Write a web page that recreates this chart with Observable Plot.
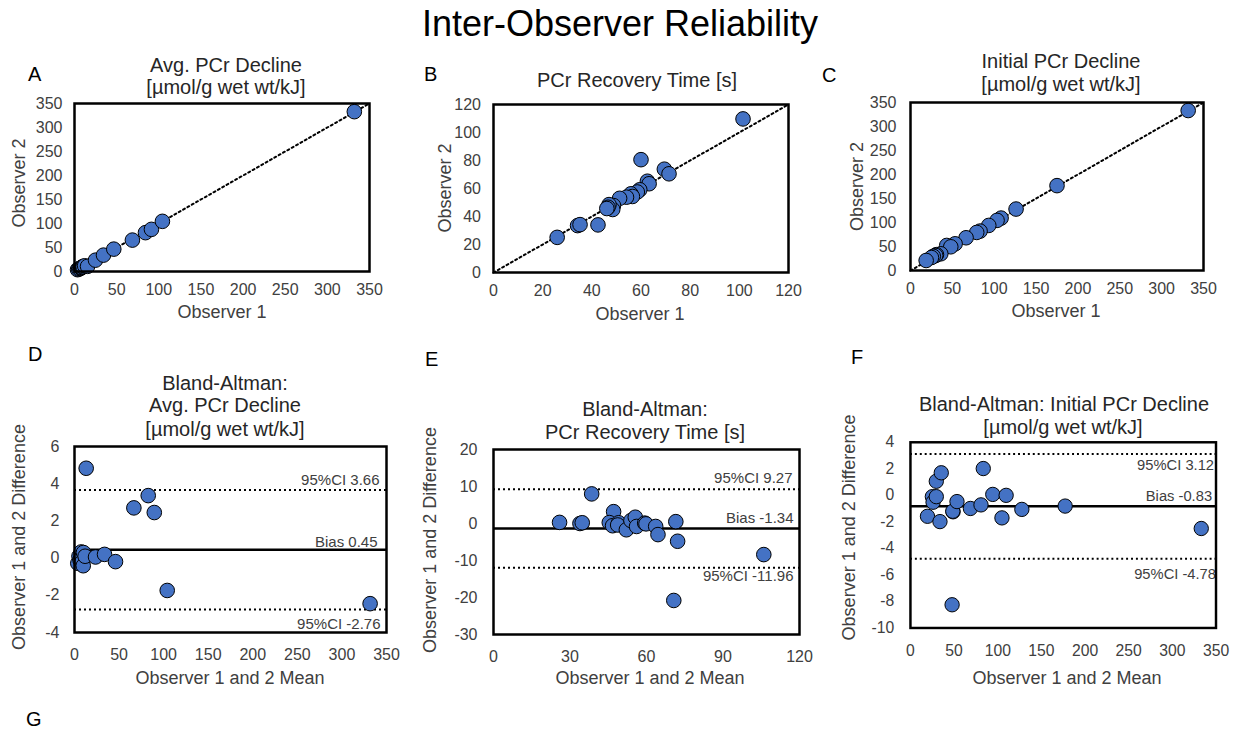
<!DOCTYPE html>
<html><head><meta charset="utf-8">
<script src="https://cdn.jsdelivr.net/npm/d3@7"></script>
<script src="https://cdn.jsdelivr.net/npm/@observablehq/plot@0.6"></script>
<style>
body{margin:0;background:#fff;}
#root{position:relative;width:1245px;height:729px;overflow:hidden;font-family:"Liberation Sans",Arial,sans-serif;}
.panel{position:absolute;}
#overlay{position:absolute;left:0;top:0;pointer-events:none;}
</style></head><body><div id="root"></div>
<script>
// ---------- DATA ----------
// A: Avg. PCr Decline (Observer 1 vs Observer 2)
const avgObs1 = [3.6, 5.0, 6.2, 7.7, 7.6, 8.4, 9.6, 10.2, 12.0, 15.5, 24.9, 34.4, 46.6, 68.7, 84.2, 91.3, 104.3, 332];
const avgObs2 = [3.8, 4.9, 6.3, 7.3, 7.6, 8.6, 10.0, 9.8, 11.9, 10.7, 23.6, 34.1, 46.6, 65.4, 80.9, 87.8, 104.5, 333];
// B: PCr Recovery Time
const recObs1 = [101.5, 60.0, 69.5, 71.4, 62.6, 63.3, 59.5, 58.5, 55.9, 56.5, 54.1, 51.3, 48.8, 48.5, 47.0, 46.6, 46.1, 34.2, 35.2, 42.5, 25.9];
const recObs2 = [109.7, 80.6, 73.8, 70.5, 65.2, 63.4, 59.1, 57.5, 56.2, 54.3, 53.8, 53.0, 47.8, 45.0, 48.5, 46.6, 45.7, 33.5, 34.2, 34.0, 25.1];
// C: Initial PCr Decline
const initObs1 = [331.7, 175, 126.1, 108.2, 103.4, 93.5, 83.1, 79.1, 66.4, 53.3, 43.3, 48.1, 36.2, 31, 30.1, 27.2, 25, 18.7];
const initObs2 = [333.3, 176.8, 128, 109.2, 104.4, 93.9, 82.1, 79.3, 68.2, 55.6, 52.2, 49.4, 34.8, 33, 31.3, 29.6, 27, 20.9];
// D: Bland-Altman Avg. PCr Decline
const avgMean = [3.7, 5.0, 6.2, 7.5, 7.6, 8.5, 9.8, 10.0, 11.9, 13.1, 23.6, 33.7, 46.0, 66.6, 82.7, 89.5, 104.0, 331.6];
const avgDiff = [-0.28, 0.1, -0.1, 0.33, 0.0, -0.2, -0.41, 0.3, 0.1, 4.83, 0.06, 0.2, -0.19, 2.7, 3.36, 2.45, -1.74, -2.45];
const avgBias = 0.45, avgCI = [3.66, -2.76];
// E: Bland-Altman PCr Recovery Time
const recMean = [25.9, 33.9, 34.8, 38.5, 47.1, 45.4, 46.7, 49.1, 48.7, 52.1, 53.9, 55.6, 56.1, 59.3, 59.8, 63.6, 64.5, 71.5, 72.2, 70.7, 106.0];
const recDiff = [0.3, 0.0, 0.2, 8.0, 3.2, 0.25, -0.6, 0.2, -0.4, -1.7, 0.8, 1.7, -0.8, 0.1, -0.1, -0.8, -3.0, 0.5, -4.8, -20.8, -8.4];
const recBias = -1.34, recCI = [9.27, -11.96];
// F: Bland-Altman Initial PCr Decline
const initMean = [19.5, 25.1, 25.9, 29.6, 29.6, 35.3, 33.8, 47.7, 48.8, 48.5, 53.3, 68.7, 80.8, 83.4, 94.3, 104.8, 109.6, 127.6, 177.2, 333.1];
const initDiff = [-1.58, -0.1, -0.52, 1.06, -0.1, 1.7, -1.98, -8.25, -1.24, -1.2, -0.47, -0.99, -0.72, 2.02, 0.07, -1.7, 0.0, -1.06, -0.81, -2.5];
const initBias = -0.83, initCI = [3.12, -4.78];
// identity lines
const diag350 = [0, 350];
const diag120 = [0, 120];
// ticks
const ticks350 = [0, 50, 100, 150, 200, 250, 300, 350];
const ticks120 = [0, 20, 40, 60, 80, 100, 120];
const ticks120b = [0, 30, 60, 90, 120];
const ticksD = [-4, -2, 0, 2, 4, 6];
const ticksE = [-30, -20, -10, 0, 10, 20];
const ticksF = [-10, -8, -6, -4, -2, 0, 2, 4];

// ---------- DRAW ----------
const root = document.getElementById('root');
const FONT = '"Liberation Sans", Arial, sans-serif';
const BLUE = '#4472C4';
const TICK = '#404040';
const TITLE = '#262626';

function dots(xs, ys) {
  return Plot.dot(xs.map((x, i) => [x, ys[i]]), {x: d => d[0], y: d => d[1], r: 7.3, fill: BLUE, stroke: '#000', strokeWidth: 1});
}
function diagLine(arr) {
  return Plot.line(arr.map(v => [v, v]), {x: d => d[0], y: d => d[1], stroke: '#000', strokeWidth: 2, strokeDasharray: '2,3'});
}
function blandMarks(bias, ci, off) {
  return [
    Plot.ruleY(ci, {stroke: '#000', strokeWidth: 2, strokeDasharray: '2,3'}),
    Plot.ruleY([bias], {stroke: '#000', strokeWidth: 2.5}),
    Plot.text([ci[0]], {y: d => d, frameAnchor: 'right', text: d => '95%CI ' + d.toFixed(2), textAnchor: 'end', dx: off[0][0], dy: off[0][1], fontSize: 15, fill: TICK}),
    Plot.text([bias], {y: d => d, frameAnchor: 'right', text: d => 'Bias ' + d.toFixed(2), textAnchor: 'end', dx: off[1][0], dy: off[1][1], fontSize: 15, fill: TICK}),
    Plot.text([ci[1]], {y: d => d, frameAnchor: 'right', text: d => '95%CI ' + d.toFixed(2), textAnchor: 'end', dx: off[2][0], dy: off[2][1], fontSize: 15, fill: TICK})
  ];
}

function panel({frame: [x0, x1, y0, y1], xDomain, yDomain, xTicks, yTicks, xPad, yPad, marks}) {
  const ml = 60, mr = 30, mt = 12, mb = 40;
  const width = x1 - x0 + ml + mr, height = y1 - y0 + mt + mb;
  const chart = Plot.plot({
    width, height, marginLeft: ml, marginRight: mr, marginTop: mt, marginBottom: mb,
    style: {fontFamily: FONT, fontSize: '16px', color: TICK, background: 'transparent', overflow: 'visible'},
    x: {domain: xDomain, ticks: xTicks, tickSize: 0, tickPadding: xPad, label: null, tickFormat: d => String(d)},
    y: {domain: yDomain, ticks: yTicks, tickSize: 0, tickPadding: yPad, label: null, tickFormat: d => String(d)},
    marks: [...marks, Plot.frame({stroke: '#000', strokeWidth: 2.5})]
  });
  const div = document.createElement('div');
  div.className = 'panel';
  div.style.left = (x0 - ml) + 'px';
  div.style.top = (y0 - mt) + 'px';
  div.appendChild(chart);
  root.appendChild(div);
}

// A
panel({frame: [74, 369, 103, 271], xDomain: [0, 350], yDomain: [0, 350], xTicks: ticks350, yTicks: ticks350, xPad: 12.5, yPad: 12,
  marks: [diagLine(diag350), dots(avgObs1, avgObs2)]});
// B
panel({frame: [493, 788, 104, 272], xDomain: [0, 120], yDomain: [0, 120], xTicks: ticks120, yTicks: ticks120, xPad: 12.5, yPad: 12.5,
  marks: [diagLine(diag120), dots(recObs1, recObs2)]});
// C
panel({frame: [910, 1203, 102, 270], xDomain: [0, 350], yDomain: [0, 350], xTicks: ticks350, yTicks: ticks350, xPad: 12.5, yPad: 14,
  marks: [diagLine(diag350), dots(initObs1, initObs2)]});
// D
panel({frame: [74, 386, 446, 632], xDomain: [0, 350], yDomain: [-4, 6], xTicks: ticks350, yTicks: ticksD, xPad: 16, yPad: 15,
  marks: [...blandMarks(avgBias, avgCI, [[-7, -10], [-9, -8], [-6, 14.5]]), dots(avgMean, avgDiff)]});
// E
panel({frame: [493, 799, 449, 634], xDomain: [0, 120], yDomain: [-30, 20], xTicks: ticks120b, yTicks: ticksE, xPad: 16, yPad: 16,
  marks: [...blandMarks(recBias, recCI, [[-7, -11], [-6, -10.5], [-6, 8]]), dots(recMean, recDiff)]});
// F
panel({frame: [911, 1222, 442, 631], xDomain: [0, 350], yDomain: [-10, 4], xTicks: ticks350, yTicks: ticksF, xPad: 17, yPad: 16.5,
  marks: [...blandMarks(initBias, initCI, [[-2, 12], [-4, -10.5], [0, 16]]), dots(initMean, initDiff)]});

// ---------- TEXT OVERLAY ----------
const texts = [
  {t: 'Inter-Observer Reliability', x: 620, y: 36, s: 36, a: 'middle', c: '#000'},
  {t: 'A', x: 28, y: 81, s: 20, a: 'start', c: '#000'},
  {t: 'B', x: 424, y: 81, s: 20, a: 'start', c: '#000'},
  {t: 'C', x: 822, y: 82, s: 20, a: 'start', c: '#000'},
  {t: 'D', x: 28, y: 361, s: 20, a: 'start', c: '#000'},
  {t: 'E', x: 425, y: 366, s: 20, a: 'start', c: '#000'},
  {t: 'F', x: 851, y: 364, s: 20, a: 'start', c: '#000'},
  {t: 'G', x: 26, y: 726, s: 20, a: 'start', c: '#000'},
  {t: 'Avg. PCr Decline', x: 226, y: 72, s: 20, a: 'middle', c: TITLE},
  {t: '[µmol/g wet wt/kJ]', x: 226, y: 94, s: 20, a: 'middle', c: TITLE},
  {t: 'PCr Recovery Time [s]', x: 637, y: 87, s: 20, a: 'middle', c: TITLE},
  {t: 'Initial PCr Decline', x: 1061, y: 68, s: 20, a: 'middle', c: TITLE},
  {t: '[µmol/g wet wt/kJ]', x: 1061, y: 90.5, s: 20, a: 'middle', c: TITLE},
  {t: 'Bland-Altman:', x: 225, y: 389.5, s: 20, a: 'middle', c: TITLE},
  {t: 'Avg. PCr Decline', x: 225, y: 412, s: 20, a: 'middle', c: TITLE},
  {t: '[µmol/g wet wt/kJ]', x: 225, y: 435.5, s: 20, a: 'middle', c: TITLE},
  {t: 'Bland-Altman:', x: 645, y: 415.5, s: 20, a: 'middle', c: TITLE},
  {t: 'PCr Recovery Time [s]', x: 645, y: 439, s: 20, a: 'middle', c: TITLE},
  {t: 'Bland-Altman: Initial PCr Decline', x: 1064, y: 410.5, s: 20, a: 'middle', c: TITLE},
  {t: '[µmol/g wet wt/kJ]', x: 1063, y: 434, s: 20, a: 'middle', c: TITLE},
  {t: 'Observer 1', x: 222, y: 318, s: 18, a: 'middle', c: TICK},
  {t: 'Observer 1', x: 640, y: 320, s: 18, a: 'middle', c: TICK},
  {t: 'Observer 1', x: 1056, y: 316.5, s: 18, a: 'middle', c: TICK},
  {t: 'Observer 1 and 2 Mean', x: 230, y: 684, s: 18, a: 'middle', c: TICK},
  {t: 'Observer 1 and 2 Mean', x: 650, y: 684, s: 18, a: 'middle', c: TICK},
  {t: 'Observer 1 and 2 Mean', x: 1067, y: 684, s: 18, a: 'middle', c: TICK},
  {t: 'Observer 2', x: 24.7, y: 183, s: 18, a: 'middle', c: TICK, r: true},
  {t: 'Observer 2', x: 451.4, y: 188, s: 18, a: 'middle', c: TICK, r: true},
  {t: 'Observer 2', x: 863, y: 186.5, s: 18, a: 'middle', c: TICK, r: true},
  {t: 'Observer 1 and 2 Difference', x: 24.7, y: 537, s: 18, a: 'middle', c: TICK, r: true},
  {t: 'Observer 1 and 2 Difference', x: 436.4, y: 540, s: 18, a: 'middle', c: TICK, r: true},
  {t: 'Observer 1 and 2 Difference', x: 854.7, y: 527.5, s: 18, a: 'middle', c: TICK, r: true}
];
const svg = d3.select(root).append('svg').attr('id', 'overlay').attr('width', 1245).attr('height', 729)
  .style('font-family', FONT);
svg.selectAll('text').data(texts).join('text')
  .attr('transform', d => `translate(${d.x},${d.y})` + (d.r ? ' rotate(-90)' : ''))
  .attr('text-anchor', d => d.a)
  .attr('font-size', d => d.s)
  .attr('fill', d => d.c)
  .text(d => d.t);
</script></body></html>
